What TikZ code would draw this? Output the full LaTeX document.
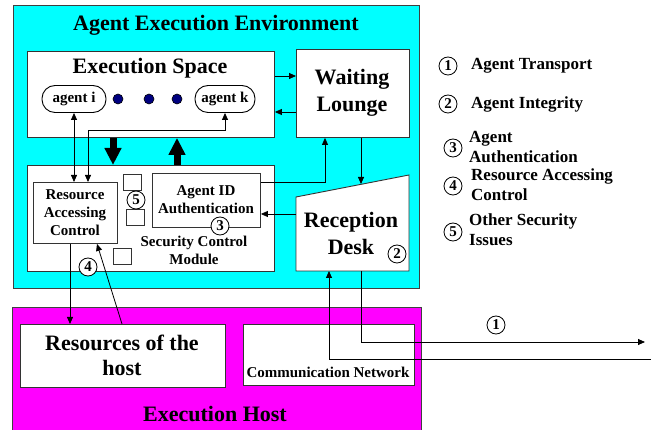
\documentclass[tikz,border=0pt]{standalone}
\usepackage{fontspec}
\setmainfont{Liberation Serif}
\usetikzlibrary{arrows.meta,calc}
\definecolor{envcyan}{RGB}{0,255,255}
\definecolor{hostmag}{RGB}{255,0,255}
\definecolor{dotblue}{RGB}{0,0,128}
\begin{document}
\begin{tikzpicture}[x=1pt,y=-1pt,
  bx/.style={draw=black!80, line width=0.9pt, fill=white, inner sep=0pt, anchor=north west},
  big/.style={font=\fontsize{22}{27}\selectfont\bfseries, align=center, inner sep=0pt},
  mid/.style={font=\fontsize{15}{18}\selectfont\bfseries, align=center, inner sep=0pt},
  leg/.style={font=\fontsize{17}{20}\selectfont\bfseries, align=left, inner sep=0pt, anchor=west},
  circ/.style={circle, draw=black, line width=0.8pt, fill=white, minimum size=18pt, inner sep=0pt, font=\fontsize{15}{15}\selectfont\bfseries},
  agentbox/.style={draw=black, line width=0.9pt, fill=white, rounded corners=13pt, minimum height=27pt, inner sep=0pt, font=\fontsize{15}{18}\selectfont\bfseries},
  sq/.style={draw=black!80, line width=0.8pt, fill=white, inner sep=0pt, anchor=north west, minimum width=18pt, minimum height=16pt},
  dotnode/.style={circle, draw=black, line width=0.6pt, fill=dotblue, minimum size=10pt, inner sep=0pt},
  arr/.style={-{Triangle[length=7pt,width=6pt]}, line width=0.8pt},
  darr/.style={{Triangle[length=7pt,width=6pt]}-{Triangle[length=7pt,width=6pt]}, line width=0.8pt},
  thickarr/.style={-{Triangle[length=17pt,width=16pt]}, line width=7pt},
  ln/.style={line width=0.8pt}
]
\useasboundingbox (0,0) rectangle (651,430);
\clip (0,0) rectangle (651,430);
\fill[white] (0,0) rectangle (651,430);

% Agent execution environment
\node[bx, fill=envcyan, draw=black!75, minimum width=406pt, minimum height=283pt] (aee) at (13,5) {};
\node[big] (aeetitle) at (216,25) {Agent Execution Environment};

% Execution space
\node[bx, minimum width=247pt, minimum height=86pt] (es) at (27,51) {};
\node[big] (estitle) at (150,68) {Execution Space};
\node[agentbox, minimum width=64pt] (ai) at (74,99) {agent i};
\node[agentbox, minimum width=60pt] (ak) at (225,99) {agent k};
\node[dotnode] (d1) at (118,99) {};
\node[dotnode] (d2) at (149,99) {};
\node[dotnode] (d3) at (177,99) {};

% Waiting lounge
\node[bx, minimum width=113pt, minimum height=88pt] (wl) at (296,49) {};
\node[big] (wltext) at (352,93) {Waiting\\Lounge};

% Security control module
\node[bx, minimum width=247pt, minimum height=106pt] (scm) at (27,165) {};
\node[mid] (scmtext) at (194,250) {Security Control\\Module};
\node[bx, minimum width=84pt, minimum height=61pt] (rac) at (33,182) {};
\node[mid] (ractext) at (75,212.5) {Resource\\Accessing\\Control};
\node[bx, minimum width=108pt, minimum height=54pt] (aid) at (152,173) {};
\node[mid] (aidtext) at (206,200) {Agent ID\\Authentication};
\node[sq] (sq1) at (123,174) {};
\node[sq] (sq2) at (126,209) {};
\node[sq] (sq3) at (113,248) {};

% Reception desk
\coordinate (rdtl) at (296,197);
\coordinate (rdtr) at (409,175);
\coordinate (rdbr) at (409,271);
\coordinate (rdbl) at (296,271);
\draw[draw=black!80, line width=0.9pt, fill=white] (rdtl) -- (rdtr) -- (rdbr) -- (rdbl) -- cycle;
\node[big] (rdtext) at (351,233) {Reception\\Desk};
\coordinate (rdtop) at (361,184);
\coordinate (rdleft) at (296,214);

% Execution host
\node[bx, fill=hostmag, draw=black!75, minimum width=409pt, minimum height=135pt] (eh) at (12,307) {};
\node[big] (ehtitle) at (215,414) {Execution Host};
\node[bx, minimum width=205pt, minimum height=63pt] (res) at (20,324) {};
\node[big, font=\fontsize{22}{25}\selectfont\bfseries] (restext) at (122,355.5) {Resources of the\\host};
\node[bx, minimum width=171pt, minimum height=61pt] (cn) at (243,324) {};
\node[mid] (cntext) at (328,372.5) {Communication Network};

% Connectors
\draw[arr] (es.east |- 0,76) -- (wl.west |- 0,76);
\draw[arr] (wl.west |- 0,112) -- (es.east |- 0,112);
\draw[thickarr] (es.south -| 113,0) -- (scm.north -| 113,0);
\draw[thickarr] (scm.north -| 177,0) -- (es.south -| 177,0);
\draw[darr] (ai.south) -- (rac.north -| ai.south);
\draw[darr] (ak.south) -- (ak.south |- 0,130) -- (88,130) -- (rac.north -| 88,0);
\draw[arr] (aid.east |- 0,182) -- (325,182) -- (wl.south -| 325,0);
\draw[arr] (wl.south -| 361,0) -- (rdtop);
\draw[arr] (rdleft) -- (aid.east |- rdleft);
\draw[arr] (rac.south -| 70,0) -- (res.north -| 70,0);
\draw[arr] (res.north -| 122,0) -- (rac.south -| 97,0);
\coordinate (netin) at (651,359);
\coordinate (netout) at (645,342);
\draw[arr] (netin) -- (329,359) -- (rdbl -| 329,0);
\draw[arr] (rdbl -| 361,0) -- (361,342) -- (netout);

% Numbered circles on diagram
\node[circ] (c5) at (136,200) {5};
\node[circ] (c3) at (220,226) {3};
\node[circ] (c4) at (88,267) {4};
\node[circ] (c2) at (397,254) {2};
\node[circ] (c1) at (496,325) {1};

% Legend
\node[circ] (l1) at (448,66) {1};
\node[leg] (l1t) at (471,66) {Agent Transport};
\node[circ] (l2) at (448,104) {2};
\node[leg] (l2t) at (471,104) {Agent Integrity};
\node[circ] (l3) at (453,148) {3};
\node[leg] (l3t) at (469,147) {Agent\\Authentication};
\node[circ] (l4) at (453,186) {4};
\node[leg] (l4t) at (471,185) {Resource Accessing\\Control};
\node[circ] (l5) at (453,232) {5};
\node[leg] (l5t) at (469,230) {Other Security\\Issues};
\end{tikzpicture}
\end{document}
